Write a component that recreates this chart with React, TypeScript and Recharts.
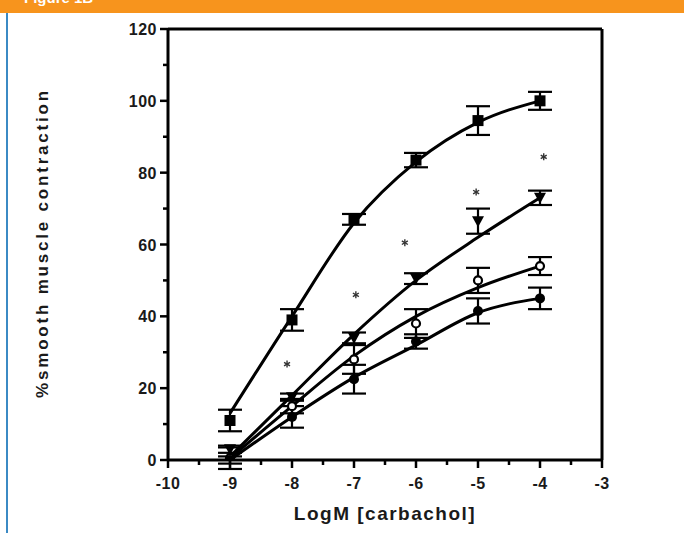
import {
  ComposedChart,
  Line,
  Scatter,
  ErrorBar,
  XAxis,
  YAxis,
  ReferenceLine,
} from "recharts";

// log molar carbachol concentrations
const logDose = [-9, -8, -7, -6, -5, -4];

// filled squares (top curve)
const squareMean = [11, 39, 67, 83.5, 94.5, 100];
const squareErr = [3, 3, 1.5, 2, 4, 2.5];
const squareFit = [13, 40, 66, 83, 94, 100];

// filled inverted triangles
const triMean = [3, 17.5, 34, 50.5, 66.5, 73];
const triErr = [1, 1, 1.5, 1.5, 3.5, 2];
const triFit = [1, 18, 35, 50, 62, 73];

// open circles
const openMean = [0.5, 15, 28, 38, 50, 54];
const openErr = [3, 2, 4, 4, 3.5, 2.5];
const openFit = [0.5, 15, 29, 40, 48, 54];

// filled circles (bottom curve)
const dotMean = [0, 12, 22.5, 33, 41.5, 45];
const dotErr = [1, 3, 4, 2, 3.5, 3];
const dotFit = [0, 12, 23, 32, 41, 45];

// significance asterisks
const starX = [-8.08, -6.97, -6.18, -5.03, -3.94];
const starY = [26.7, 46, 60.5, 74.6, 84.4];

const xTicks = [-10, -9.5, -9, -8.5, -8, -7.5, -7, -6.5, -6, -5.5, -5, -4.5, -4, -3.5, -3];
const yTicks = [0, 10, 20, 30, 40, 50, 60, 70, 80, 90, 100, 110, 120];

const points = (ys: number[], errs?: number[]) =>
  logDose.map((x, i) => ({ x, y: ys[i], err: errs ? errs[i] : 0 }));

const stars = starX.map((x, i) => ({ x, y: starY[i] }));

const tickFont = {
  fontFamily: "Arial, 'Liberation Sans', sans-serif",
  fontWeight: 700,
  fontSize: 16,
  fill: "#1a1a1a",
};

const XTick = (props: any) => {
  const { x, y, payload } = props;
  const major = Number.isInteger(payload.value);
  return (
    <g>
      <line x1={x} x2={x} y1={y} y2={y + (major ? 8 : 5)} stroke="#000" strokeWidth={2.5} />
      {major && (
        <text x={x} y={y + 29} textAnchor="middle" letterSpacing={0.5} style={tickFont}>
          {payload.value}
        </text>
      )}
    </g>
  );
};

const YTick = (props: any) => {
  const { x, y, payload } = props;
  const major = payload.value % 20 === 0;
  return (
    <g>
      <line x1={x - (major ? 8 : 5)} x2={x} y1={y} y2={y} stroke="#000" strokeWidth={2.5} />
      {major && (
        <text x={x - 11} y={y + 6} textAnchor="end" letterSpacing={0.5} style={tickFont}>
          {payload.value}
        </text>
      )}
    </g>
  );
};

const SquareMark = ({ cx, cy }: any) => (
  <rect x={cx - 5.5} y={cy - 5.5} width={11} height={11} fill="#000" />
);

const TriMark = ({ cx, cy }: any) => (
  <path d={`M${cx - 6},${cy - 5} L${cx + 6},${cy - 5} L${cx},${cy + 6} Z`} fill="#000" />
);

const OpenMark = ({ cx, cy }: any) => (
  <circle cx={cx} cy={cy} r={4} fill="#fff" stroke="#000" strokeWidth={2.2} />
);

const DotMark = ({ cx, cy }: any) => <circle cx={cx} cy={cy} r={5} fill="#000" />;

const StarMark = ({ cx, cy }: any) => (
  <g stroke="#333" strokeWidth={1.4}>
    <line x1={cx} x2={cx} y1={cy - 3.5} y2={cy + 3.5} />
    <line x1={cx - 3} x2={cx + 3} y1={cy - 1.8} y2={cy + 1.8} />
    <line x1={cx - 3} x2={cx + 3} y1={cy + 1.8} y2={cy - 1.8} />
  </g>
);

const lineProps = {
  dataKey: "y",
  type: "monotone" as const,
  stroke: "#000",
  strokeWidth: 3,
  dot: false,
  activeDot: false,
  isAnimationActive: false,
};

const errProps = {
  dataKey: "err",
  direction: "y" as const,
  width: 12,
  stroke: "#000",
  strokeWidth: 2.2,
};

export default function App() {
  return (
    <div
      style={{
        position: "absolute",
        left: 0,
        top: 0,
        width: 684,
        height: 533,
        background: "#fff",
        overflow: "hidden",
      }}
    >
      <div
        style={{
          position: "absolute",
          left: 0,
          top: 0,
          width: 684,
          height: 13,
          background: "#F7941D",
          overflow: "hidden",
        }}
      >
        <div
          style={{
            position: "absolute",
            left: 24,
            top: -11,
            color: "#fff",
            fontFamily: "Arial, 'Liberation Sans', sans-serif",
            fontWeight: 700,
            fontSize: 15,
          }}
        >
          Figure 1B
        </div>
      </div>
      <div
        style={{
          position: "absolute",
          left: 6,
          top: 13,
          width: 2,
          height: 520,
          background: "#3B8AC4",
        }}
      />
      <div style={{ position: "absolute", left: 0, top: 0 }}>
        <ComposedChart
          width={684}
          height={533}
          margin={{ top: 29, right: 82, bottom: 48, left: 100 }}
        >
          <XAxis
            dataKey="x"
            type="number"
            domain={[-10, -3]}
            ticks={xTicks}
            interval={0}
            height={25}
            tickSize={0}
            tickMargin={0}
            tickLine={false}
            tick={<XTick />}
            axisLine={{ stroke: "#000", strokeWidth: 3 }}
            allowDataOverflow
          />
          <YAxis
            dataKey="y"
            type="number"
            domain={[0, 120]}
            ticks={yTicks}
            interval={0}
            width={68}
            tickSize={0}
            tickMargin={0}
            tickLine={false}
            tick={<YTick />}
            axisLine={{ stroke: "#000", strokeWidth: 3 }}
            allowDataOverflow
          />
          <ReferenceLine y={120} stroke="#000" strokeWidth={3} />
          <ReferenceLine x={-3} stroke="#000" strokeWidth={3} />

          <Line data={points(squareFit)} {...lineProps} />
          <Line data={points(triFit)} {...lineProps} />
          <Line data={points(openFit)} {...lineProps} />
          <Line data={points(dotFit)} {...lineProps} />

          <Scatter data={points(squareMean, squareErr)} dataKey="y" shape={<SquareMark />} isAnimationActive={false}>
            <ErrorBar {...errProps} />
          </Scatter>
          <Scatter data={points(triMean, triErr)} dataKey="y" shape={<TriMark />} isAnimationActive={false}>
            <ErrorBar {...errProps} />
          </Scatter>
          <Scatter data={points(openMean, openErr)} dataKey="y" shape={<OpenMark />} isAnimationActive={false}>
            <ErrorBar {...errProps} />
          </Scatter>
          <Scatter data={points(dotMean, dotErr)} dataKey="y" shape={<DotMark />} isAnimationActive={false}>
            <ErrorBar {...errProps} />
          </Scatter>
          <Scatter data={stars} dataKey="y" shape={<StarMark />} isAnimationActive={false} />
        </ComposedChart>
      </div>
      <div
        style={{
          position: "absolute",
          left: 43,
          top: 243,
          transform: "translate(-50%, -50%) rotate(-90deg)",
          whiteSpace: "nowrap",
          fontFamily: "Arial, 'Liberation Sans', sans-serif",
          fontWeight: 700,
          fontSize: 17,
          letterSpacing: 2.8,
          color: "#1a1a1a",
        }}
      >
        %smooth muscle contraction
      </div>
      <div
        style={{
          position: "absolute",
          left: 385,
          top: 514,
          transform: "translate(-50%, -50%)",
          whiteSpace: "nowrap",
          fontFamily: "Arial, 'Liberation Sans', sans-serif",
          fontWeight: 700,
          fontSize: 19,
          letterSpacing: 1.5,
          color: "#1a1a1a",
        }}
      >
        LogM [carbachol]
      </div>
    </div>
  );
}
